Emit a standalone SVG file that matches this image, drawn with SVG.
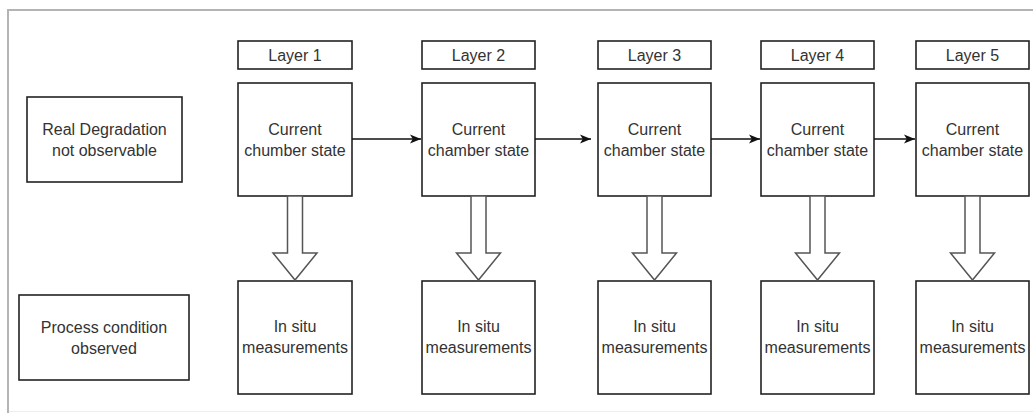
<svg xmlns="http://www.w3.org/2000/svg" width="1033" height="413" viewBox="0 0 1033 413">
  <defs>
    <style>
      .box { fill: #ffffff; stroke: #222222; stroke-width: 1.6; }
      .lbl { font-family: "Liberation Sans", Arial, sans-serif; font-size: 16px; fill: #333333; text-anchor: middle; }
      .link { fill: none; stroke: #111111; stroke-width: 1.5; }
      .block { fill: #ffffff; stroke: #555555; stroke-width: 1.5; stroke-linejoin: miter; }
    </style>
    <marker id="head" markerUnits="userSpaceOnUse" markerWidth="13" markerHeight="11" refX="11" refY="5.5" orient="auto">
      <path d="M0,1 L11,5.5 L0,10 L2.8,5.5 z" fill="#111111"/>
    </marker>
  </defs>

  <!-- page frame -->
  <rect x="0" y="0" width="1033" height="413" fill="#ffffff"/>
  <path d="M8,413 V10 H1033" fill="none" stroke="#b4b4b4" stroke-width="2"/>
  <line x1="9" y1="411.5" x2="1033" y2="411.5" stroke="#eeeeee" stroke-width="1"/>

  <!-- row captions -->
  <g id="real-degradation">
    <rect class="box" x="27" y="97" width="155" height="85"/>
    <text class="lbl" x="104.5" y="135">Real Degradation</text>
    <text class="lbl" x="104.5" y="156">not observable</text>
  </g>
  <g id="process-condition">
    <rect class="box" x="19" y="295" width="170" height="85"/>
    <text class="lbl" x="104" y="333">Process condition</text>
    <text class="lbl" x="104" y="354">observed</text>
  </g>

  <!-- layer 1 -->
  <g id="layer1-label">
    <rect class="box" x="238" y="41" width="114" height="28"/>
    <text class="lbl" x="295" y="61">Layer 1</text>
  </g>
  <g id="layer1-state">
    <rect class="box" x="238" y="83" width="114" height="113"/>
    <text class="lbl" x="295" y="135">Current</text>
    <text class="lbl" x="295" y="156">chumber state</text>
  </g>
  <g id="layer1-measure">
    <rect class="box" x="238" y="281" width="114" height="113"/>
    <text class="lbl" x="295" y="332">In situ</text>
    <text class="lbl" x="295" y="353">measurements</text>
  </g>

  <!-- layer 2 -->
  <g id="layer2-label">
    <rect class="box" x="422" y="41" width="113" height="28"/>
    <text class="lbl" x="478.5" y="61">Layer 2</text>
  </g>
  <g id="layer2-state">
    <rect class="box" x="422" y="83" width="113" height="113"/>
    <text class="lbl" x="478.5" y="135">Current</text>
    <text class="lbl" x="478.5" y="156">chamber state</text>
  </g>
  <g id="layer2-measure">
    <rect class="box" x="422" y="281" width="113" height="113"/>
    <text class="lbl" x="478.5" y="332">In situ</text>
    <text class="lbl" x="478.5" y="353">measurements</text>
  </g>

  <!-- layer 3 -->
  <g id="layer3-label">
    <rect class="box" x="598" y="41" width="113" height="28"/>
    <text class="lbl" x="654.5" y="61">Layer 3</text>
  </g>
  <g id="layer3-state">
    <rect class="box" x="598" y="83" width="113" height="113"/>
    <text class="lbl" x="654.5" y="135">Current</text>
    <text class="lbl" x="654.5" y="156">chamber state</text>
  </g>
  <g id="layer3-measure">
    <rect class="box" x="598" y="281" width="113" height="113"/>
    <text class="lbl" x="654.5" y="332">In situ</text>
    <text class="lbl" x="654.5" y="353">measurements</text>
  </g>

  <!-- layer 4 -->
  <g id="layer4-label">
    <rect class="box" x="761" y="41" width="113" height="28"/>
    <text class="lbl" x="817.5" y="61">Layer 4</text>
  </g>
  <g id="layer4-state">
    <rect class="box" x="761" y="83" width="113" height="113"/>
    <text class="lbl" x="817.5" y="135">Current</text>
    <text class="lbl" x="817.5" y="156">chamber state</text>
  </g>
  <g id="layer4-measure">
    <rect class="box" x="761" y="281" width="113" height="113"/>
    <text class="lbl" x="817.5" y="332">In situ</text>
    <text class="lbl" x="817.5" y="353">measurements</text>
  </g>

  <!-- layer 5 -->
  <g id="layer5-label">
    <rect class="box" x="916" y="41" width="113" height="28"/>
    <text class="lbl" x="972.5" y="61">Layer 5</text>
  </g>
  <g id="layer5-state">
    <rect class="box" x="916" y="83" width="113" height="113"/>
    <text class="lbl" x="972.5" y="135">Current</text>
    <text class="lbl" x="972.5" y="156">chamber state</text>
  </g>
  <g id="layer5-measure">
    <rect class="box" x="916" y="281" width="113" height="113"/>
    <text class="lbl" x="972.5" y="332">In situ</text>
    <text class="lbl" x="972.5" y="353">measurements</text>
  </g>

  <!-- connectors -->
  <g id="connectors">
    <line class="link" x1="352" y1="139" x2="421" y2="139" marker-end="url(#head)"/>
    <line class="link" x1="535" y1="139" x2="591" y2="139" marker-end="url(#head)"/>
    <line class="link" x1="711" y1="139" x2="760" y2="139" marker-end="url(#head)"/>
    <line class="link" x1="874" y1="139" x2="915" y2="139" marker-end="url(#head)"/>

    <polygon class="block" points="287.5,196 302.5,196 302.5,253 317,253 295,280 273,253 287.5,253"/>
    <polygon class="block" points="471,196 486,196 486,253 500.5,253 478.5,280 456.5,253 471,253"/>
    <polygon class="block" points="647,196 662,196 662,253 676.5,253 654.5,280 632.5,253 647,253"/>
    <polygon class="block" points="810,196 825,196 825,253 839.5,253 817.5,280 795.5,253 810,253"/>
    <polygon class="block" points="965,196 980,196 980,253 994.5,253 972.5,280 950.5,253 965,253"/>
  </g>
</svg>
